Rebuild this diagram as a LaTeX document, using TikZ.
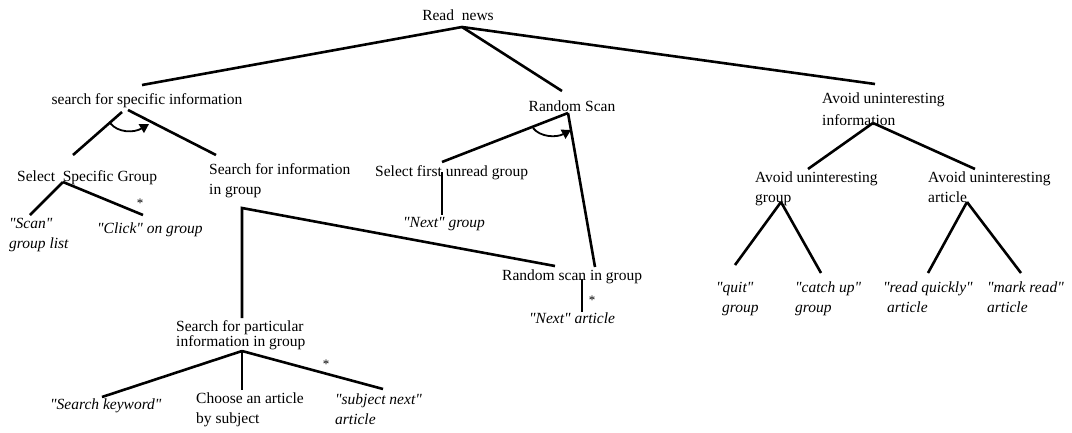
\documentclass[tikz,border=0pt]{standalone}
\usepackage{fontspec}
\newfontfamily\tnr{Liberation Serif}
\usetikzlibrary{arrows.meta}
\begin{document}
\begin{tikzpicture}[x=1pt,y=-1pt,
  lbl/.style={inner sep=0pt, font=\tnr\fontsize{15.5}{20}\selectfont},
  lblc/.style={lbl, anchor=base},
  lbll/.style={lbl, anchor=base west, align=left},
  ital/.style={font=\tnr\fontsize{15.5}{20}\selectfont\itshape},
  edge/.style={line width=2.6pt},
  turn/.style={line width=1.8pt, -{Triangle[length=9pt,width=10pt]}},
  star/.style={inner sep=0pt, anchor=base, font=\tnr\fontsize{13}{13}\selectfont}]
\useasboundingbox (0,0) rectangle (1072,432);

% ---- text nodes (multi-line nodes are placed by the baseline of their last line) ----
\node[lblc] (root) at (458,20) {Read\ \ news};
\node[lblc] (sfsi) at (147,104) {search for specific information};
\node[lblc] (rs) at (572,111) {Random Scan};
\node[lbll, font=\tnr\fontsize{15.5}{22}\selectfont] (aui) at (822,125) {Avoid uninteresting\\information};
\node[lbll] (ssg) at (17,181) {Select\ \ Specific Group};
\node[lbll] (sfig) at (209,194) {Search for information\\in group};
\node[lbll] (sfug) at (375,176) {Select first unread group};
\node[lbll] (auig) at (755,202) {Avoid uninteresting\\group};
\node[lbll] (auia) at (928,202) {Avoid uninteresting\\article};
\node[lbll, ital] (scan) at (9,248) {"Scan"\\group list};
\node[lbll, ital] (click) at (97,233) {"Click" on group};
\node[lbll, ital] (ng) at (403,227) {"Next" group};
\node[lbll] (rsig) at (502,280) {Random scan in group};
\node[lbll, ital] (na) at (529,323) {"Next" article};
\node[lbll, font=\tnr\fontsize{15.5}{14.5}\selectfont] (sfp) at (176,346) {Search for particular\\information in group};
\node[lbll, ital] (sk) at (50,409) {"Search keyword"};
\node[lbll] (choose) at (196,423) {Choose an article\\by subject};
\node[lbll, ital] (sna) at (335,424) {"subject next"\\article};
\node[lbll, ital] (quit) at (716,312) {"quit"\\\hspace*{6pt}group};
\node[lbll, ital] (catch) at (795,312) {"catch up"\\group};
\node[lbll, ital] (rq) at (883,312) {"read quickly"\\\hspace*{4pt}article};
\node[lbll, ital] (mr) at (987,312) {"mark read"\\article};

% ---- stars ----
\node[star] (s1) at (140,207) {*};
\node[star] (s2) at (592,304) {*};
\node[star] (s3) at (326,368) {*};

% ---- junction / end coordinates ----
\coordinate (jroot) at (462,27);
\coordinate (tsfsi) at (142,85);
\coordinate (trs) at (562,91);
\coordinate (taui) at (875,84);
\coordinate (jsfsiL) at (122,112);
\coordinate (jsfsiR) at (128,110);
\coordinate (tssg) at (73,155);
\coordinate (tsfig) at (216,155);
\coordinate (jssg) at (63,182);
\coordinate (tscan) at (30,215);
\coordinate (tclick) at (143,215);
\coordinate (jsfig) at (242,208);
\coordinate (trsig) at (555,266);
\coordinate (tsfp) at (242,318);
\coordinate (jrs) at (568,113);
\coordinate (tsfug) at (442,162);
\coordinate (trsig2) at (595,267);
\coordinate (jsfug) at (442,172);
\coordinate (tng) at (442,215);
\coordinate (jrsig) at (582,279);
\coordinate (tna) at (582,312);
\coordinate (jsfp) at (242,351);
\coordinate (tsk) at (102,397);
\coordinate (tchoose) at (242,390);
\coordinate (tsna) at (383,389);
\coordinate (jaui) at (873,123);
\coordinate (tauig) at (808,169);
\coordinate (tauia) at (975,169);
\coordinate (jauig) at (781,202);
\coordinate (tquit) at (735,265);
\coordinate (tcatch) at (821,273);
\coordinate (jauia) at (967,202);
\coordinate (trq) at (928,273);
\coordinate (tmr) at (1021,273);

% ---- connectors ----
\draw[edge] (jroot) -- (tsfsi);
\draw[edge] (jroot) -- (trs);
\draw[edge] (jroot) -- (taui);
\draw[edge] (jsfsiL) -- (tssg);
\draw[edge] (jsfsiR) -- (tsfig);
\draw[edge] (jssg) -- (tscan);
\draw[edge] (jssg) -- (tclick);
\draw[edge] (tsfp) -- (jsfig) -- (trsig);
\draw[edge] (jrs) -- (tsfug);
\draw[edge] (jrs) -- (trsig2);
\draw[edge] (jsfug) -- (tng);
\draw[edge] (jrsig) -- (tna);
\draw[edge] (jsfp) -- (tsk);
\draw[edge] (jsfp) -- (tchoose);
\draw[edge] (jsfp) -- (tsna);
\draw[edge] (jaui) -- (tauig);
\draw[edge] (jaui) -- (tauia);
\draw[edge] (jauig) -- (tquit);
\draw[edge] (jauig) -- (tcatch);
\draw[edge] (jauia) -- (trq);
\draw[edge] (jauia) -- (tmr);

% ---- sequence arcs ----
\coordinate (a1s) at (110,123);
\coordinate (a1e) at (149,124);
\draw[turn] (a1s) .. controls (118,133) and (134,133) .. (a1e);
\coordinate (a2s) at (533,128);
\coordinate (a2e) at (571,130);
\draw[turn] (a2s) .. controls (540,137) and (556,138) .. (a2e);
\end{tikzpicture}
\end{document}
